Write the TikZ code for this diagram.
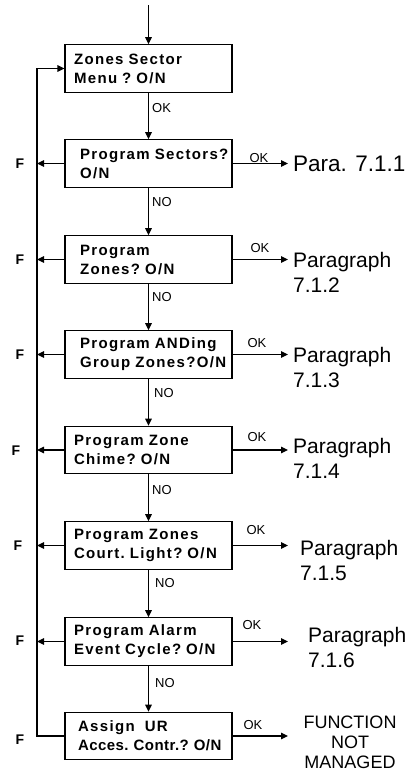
\documentclass[tikz,border=0pt]{standalone}
\usepackage{fontspec}
\setmainfont{Liberation Sans}
\newfontfamily\menufont[LetterSpace=9,WordSpace=1.6]{Liberation Sans}
\usetikzlibrary{arrows.meta}
\tikzset{
    lab/.style={
        font=\fontsize{21}{25}\selectfont
    }
}

\begin{document}
\begin{tikzpicture}[x=1pt,y=-1pt, line join=miter]
\useasboundingbox (0,0) rectangle (408,774);

\tikzset{
  main/.style={draw=black, line width=1.1pt},
  arr/.style={main, -{Triangle[length=7pt,width=6.5pt]}},
  menu/.style={rectangle, draw=black, line width=1.1pt, minimum width=167pt, minimum height=47.5pt,
    text width=149pt, inner xsep=9pt, inner ysep=0pt, align=left,
    execute at begin node={\hyphenpenalty=10000\exhyphenpenalty=10000},
    font=\menufont\bfseries\fontsize{15}{19}\selectfont},
  elab/.style={font=\fontsize{13}{15}\selectfont, inner sep=0pt},
  flab/.style={font=\bfseries\fontsize{14}{16}\selectfont, inner sep=0pt},
  plab/.style={lab, align=left, anchor=west, inner sep=0pt},
}

\coordinate (in) at (148.5,5);
\coordinate (loop) at (37,0);
\coordinate (tip) at (288,0);

% menu boxes (ties keep each line whole)
\node[menu] (b1) at (148.5,68.5) {Zones~Sector\\Menu~?~O/N};
\node[menu] (b2) at (148.5,163.5) {\hspace*{6pt}Program~Sectors?\\\hspace*{6pt}O/N};
\node[menu] (b3) at (148.5,259.5) {\hspace*{6pt}Program\\\hspace*{6pt}Zones?~O/N};
\node[menu] (b4) at (148.5,354.5) {\hspace*{6pt}Program~ANDing\\\hspace*{6pt}Group~Zones?O/N};
\node[menu] (b5) at (148.5,450) {Program~Zone\\Chime?~O/N};
\node[menu] (b6) at (148.5,545.5) {Program~Zones\\Court.~Light?~O/N};
\node[menu] (b7) at (148.5,641.5) {Program~Alarm\\Event~Cycle?~O/N};
\node[menu] (b8) at (148.5,736) {\hspace*{4pt}Assign~~UR\\\hspace*{4pt}\addfontfeature{LetterSpace=3}Acces.~Contr.?~O/N};

% down the chain
\draw[arr] (in) -- (b1.north);
\draw[arr] (b1.south) -- (b2.north);
\draw[arr] (b2.south) -- (b3.north);
\draw[arr] (b3.south) -- (b4.north);
\draw[arr] (b4.south) -- (b5.north);
\draw[arr] (b5.south) -- (b6.north);
\draw[arr] (b6.south) -- (b7.north);
\draw[arr] (b7.south) -- (b8.north);

\node[elab, anchor=west] (ok1) at (152,108) {OK};
\node[elab, anchor=west] (no2) at (152,202) {NO};
\node[elab, anchor=west] (no3) at (152,297) {NO};
\node[elab, anchor=west] (no4) at (154,393) {NO};
\node[elab, anchor=west] (no5) at (152,490) {NO};
\node[elab, anchor=west] (no6) at (155,583) {NO};
\node[elab, anchor=west] (no7) at (155,683) {NO};

% F exits and loop back
\draw[arr] (b2.west) -- (b2.west -| loop);
\draw[arr] (b3.west) -- (b3.west -| loop);
\draw[arr] (b4.west) -- (b4.west -| loop);
\draw[arr] (b5.west) -- (b5.west -| loop);
\draw[arr] (b6.west) -- (b6.west -| loop);
\draw[arr] (b7.west) -- (b7.west -| loop);
\draw[arr] (b8.west) -- (b8.west -| loop) -- (b1.west -| loop) -- (b1.west);

\node[flab] (f2) at (20,164) {F};
\node[flab] (f3) at (20,260) {F};
\node[flab] (f4) at (20,355) {F};
\node[flab] (f5) at (16,451) {F};
\node[flab] (f6) at (18,546) {F};
\node[flab] (f7) at (20,641) {F};
\node[flab] (f8) at (20,740) {F};

% OK exits
\draw[arr] (b2.east) -- (b2.east -| tip);
\draw[arr] (b3.east) -- (b3.east -| tip);
\draw[arr] (b4.east) -- (b4.east -| tip);
\draw[arr] (b5.east) -- (b5.east -| tip);
\draw[arr] (b6.east) -- (b6.east -| tip);
\draw[arr] (b7.east) -- (b7.east -| tip);
\draw[arr] (b8.east) -- (b8.east -| tip);

\node[elab] (ok2) at (259,158) {OK};
\node[elab] (ok3) at (260,248) {OK};
\node[elab] (ok4) at (257,343) {OK};
\node[elab] (ok5) at (257,437) {OK};
\node[elab] (ok6) at (256,530) {OK};
\node[elab] (ok7) at (252,625) {OK};
\node[elab] (ok8) at (253,725) {OK};

% targets
\node[plab, font=\fontsize{22.5}{25}\selectfont] (p2) at (293,164) {Para. 7.1.1};
\node[plab] (p3) at (293,272.5) {Paragraph\\7.1.2};
\node[plab] (p4) at (293,367.5) {Paragraph\\7.1.3};
\node[plab] (p5) at (293,458) {Paragraph\\7.1.4};
\node[plab] (p6) at (300,560) {Paragraph\\7.1.5};
\node[plab] (p7) at (308,647.5) {Paragraph\\7.1.6};
\node[align=center, inner sep=0pt, font=\fontsize{18}{20}\selectfont] (p8) at (350,742) {FUNCTION\\NOT\\MANAGED};

\end{tikzpicture}
\end{document}
